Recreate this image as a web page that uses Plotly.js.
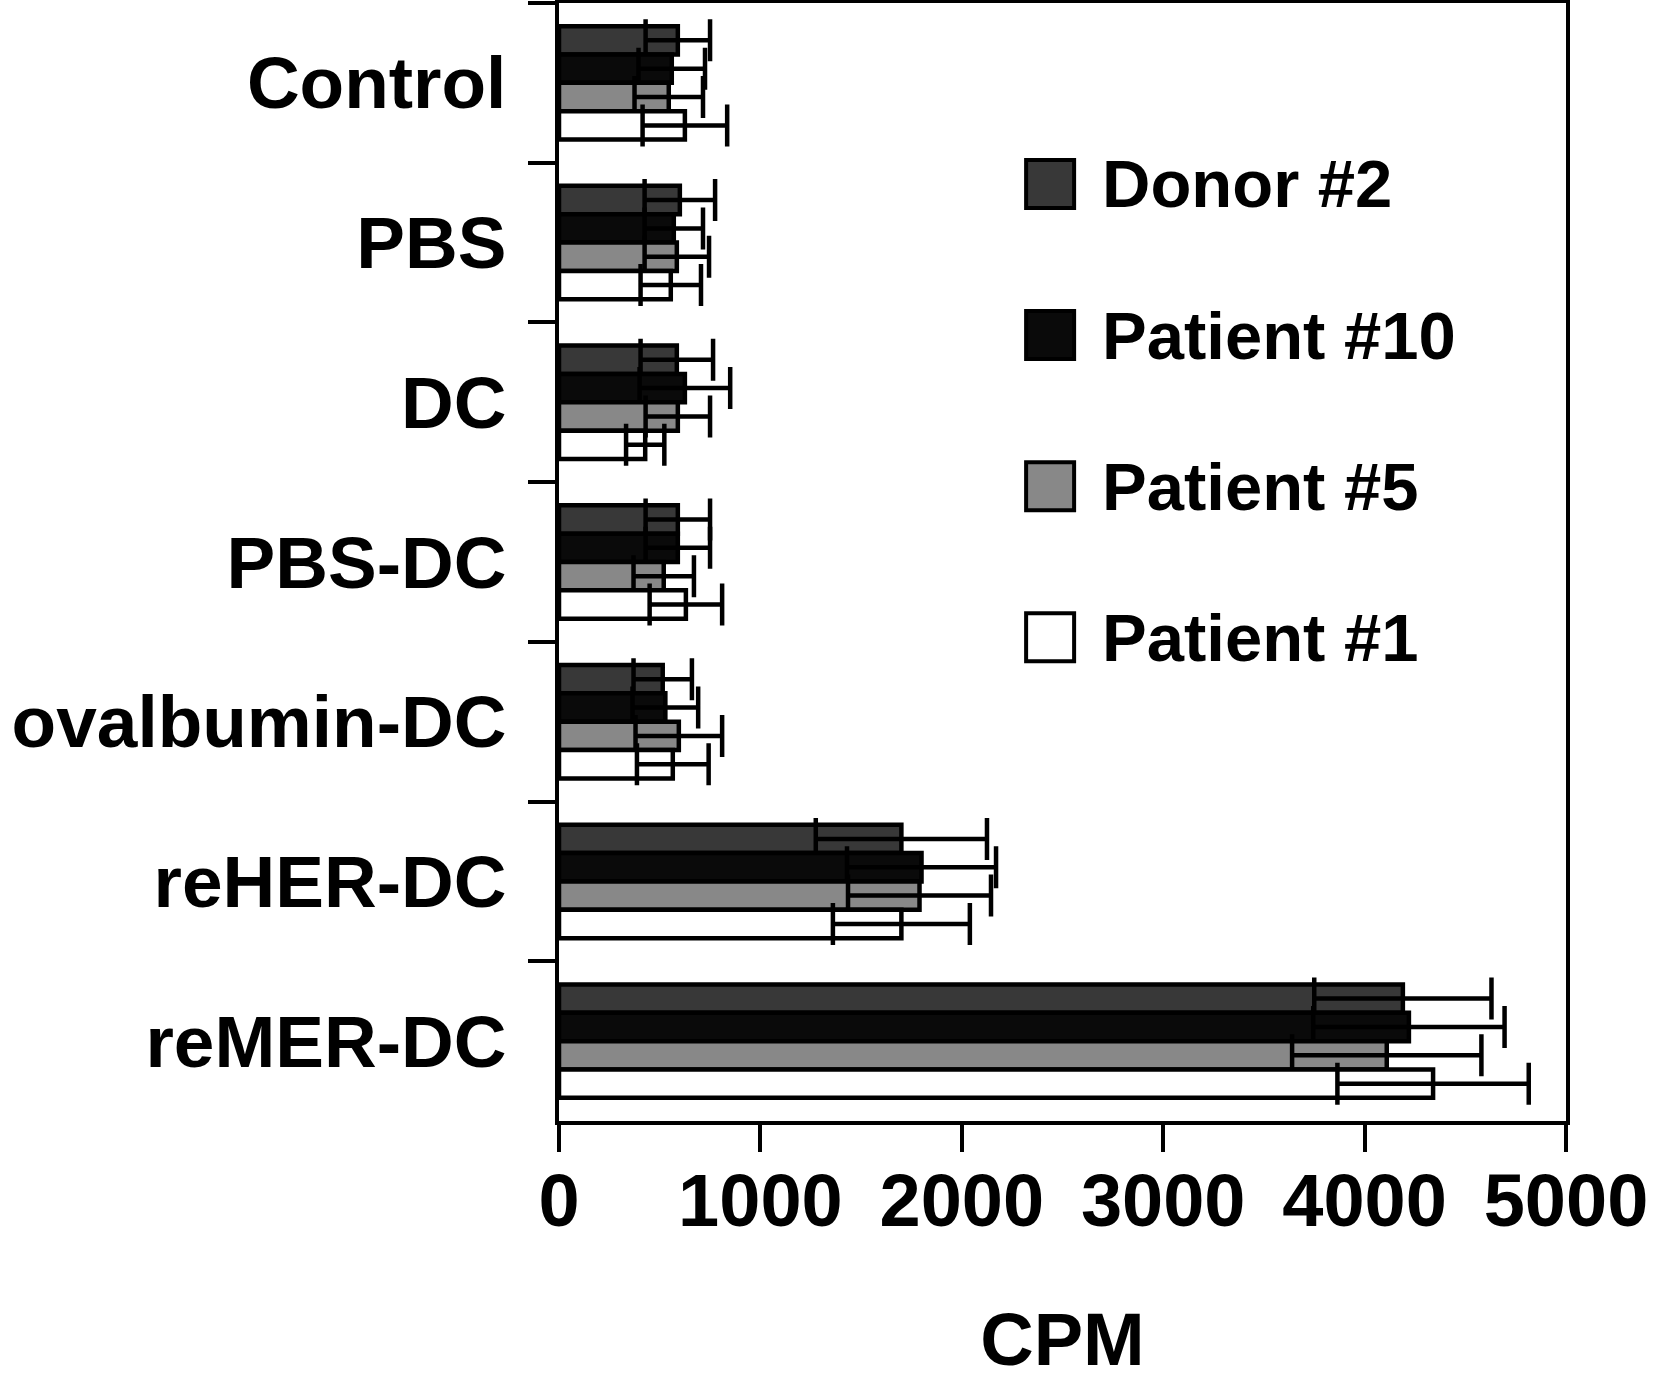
<!DOCTYPE html>
<html>
<head>
<meta charset="utf-8">
<script src="https://cdn.plot.ly/plotly-3.0.1.min.js"></script>
<style>
    html, body { margin: 0; padding: 0; background: #ffffff; }
    #chart { width: 1654px; height: 1381px; }
</style>
</head>
<body>
<div id="chart"></div>
<script>
// Values (CPM), one array per series
const categories = ["Control", "PBS", "DC", "PBS-DC", "ovalbumin-DC", "reHER-DC", "reMER-DC"]

const seriesNames = ["Donor #2", "Patient #10", "Patient #5", "Patient #1"]

const donor2 = [590, 600, 585, 590, 515, 1700, 4190]
const donor2Err = [160, 175, 180, 160, 145, 425, 440]

const patient10 = [560, 570, 625, 590, 528, 1800, 4220]
const patient10Err = [165, 145, 225, 160, 163, 370, 475]

const patient5 = [545, 585, 590, 520, 595, 1790, 4110]
const patient5Err = [170, 160, 160, 150, 215, 355, 470]

const patient1 = [625, 555, 428, 630, 565, 1700, 4340]
const patient1Err = [210, 150, 95, 180, 178, 340, 475]

const xTickValues = [0, 1000, 2000, 3000, 4000, 5000]

const fills = ["#383838", "#0a0a0a", "#888888", "#ffffff"]
const AXIS_LINE = 4
const MARK_LINE = 4.5
const FONT = "Liberation Sans, Arial, Helvetica, sans-serif"

const values = [donor2, patient10, patient5, patient1]
const errors = [donor2Err, patient10Err, patient5Err, patient1Err]

const traces = values.map((vals, i) => ({
    type: "bar",
    orientation: "h",
    name: seriesNames[i],
    y: categories,
    x: vals,
    showlegend: false,
    marker: {color: fills[i], line: {color: "#000000", width: MARK_LINE}},
    error_x: {type: "data", array: errors[i], visible: true, color: "#000000", thickness: MARK_LINE, width: 21}
}))

// The legend squares are much bigger than plotly's own legend symbols, so draw them by hand
const shapes = []
const annotations = []
const legendTop = 0.8382     // paper y of the first entry
const legendStep = 0.1352    // paper distance between entries
for (let i = 0; i < seriesNames.length; i++) {
    const yc = legendTop - i * legendStep
    shapes.push({
        type: "rect", xref: "paper", yref: "paper",
        xsizemode: "pixel", ysizemode: "pixel",
        xanchor: 0.4877, yanchor: yc,
        x0: -24, x1: 24, y0: -24, y1: 24,
        fillcolor: fills[i],
        line: {color: "#000000", width: AXIS_LINE}
    })
    annotations.push({
        xref: "paper", yref: "paper",
        x: 0.5375, y: yc,
        xanchor: "left", yanchor: "middle",
        text: seriesNames[i],
        showarrow: false,
        font: {family: FONT, size: 67, color: "#000000", weight: "bold"}
    })
}

const layout = {
    width: 1654,
    height: 1381,
    margin: {l: 559, r: 88, t: 3, b: 260},
    paper_bgcolor: "#ffffff",
    plot_bgcolor: "#ffffff",
    font: {family: FONT, size: 74, color: "#000000", weight: "bold"},
    barmode: "group",
    bargap: 0.29,
    bargroupgap: 0,
    showlegend: false,
    xaxis: {
        range: [0, 5000],
        tickvals: xTickValues,
        ticks: "outside",
        ticklen: 27,
        tickwidth: AXIS_LINE,
        tickcolor: "#000000",
        ticklabelstandoff: -15,
        showline: true,
        linewidth: AXIS_LINE,
        linecolor: "#000000",
        mirror: true,
        showgrid: false,
        zeroline: false,
        title: {text: "CPM", standoff: 108, font: {family: FONT, size: 74, weight: "bold"}}
    },
    yaxis: {
        type: "category",
        categoryorder: "array",
        categoryarray: categories,
        autorange: "reversed",
        tickson: "boundaries",
        ticks: "outside",
        ticklen: 27,
        tickwidth: AXIS_LINE,
        tickcolor: "#000000",
        ticklabelstandoff: 34,
        tickfont: {family: FONT, size: 73, weight: "bold"},
        showline: true,
        linewidth: AXIS_LINE,
        linecolor: "#000000",
        mirror: true,
        showgrid: false,
        zeroline: false
    },
    shapes: shapes,
    annotations: annotations
}

Plotly.newPlot("chart", traces, layout, {staticPlot: true})
</script>
</body>
</html>
